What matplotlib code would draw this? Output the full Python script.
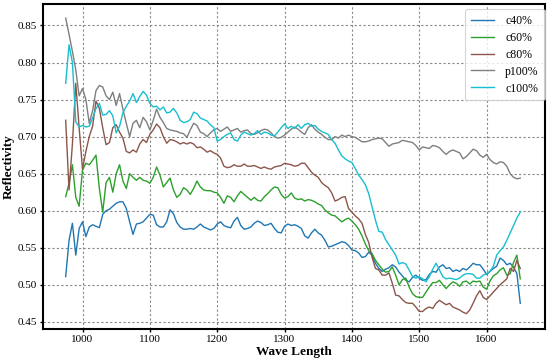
import matplotlib
matplotlib.use("Agg")
import matplotlib.pyplot as plt
import numpy as np

plt.rcParams['font.family'] = ['Liberation Serif', 'DejaVu Serif']
plt.rcParams['mathtext.fontset'] = 'stix'

wavelength = list(range(975, 1655, 5))

c40 = [
    0.511, 0.560, 0.583, 0.540, 0.576, 0.585,
    0.565, 0.578, 0.581, 0.579, 0.577, 0.595, 0.600, 0.602, 0.606, 0.610,
    0.612, 0.612, 0.603, 0.585, 0.568, 0.582, 0.583, 0.585, 0.590, 0.595,
    0.594, 0.581, 0.578, 0.578, 0.585, 0.601, 0.596, 0.584, 0.578, 0.575,
    0.575, 0.576, 0.575, 0.578, 0.582, 0.578, 0.576, 0.574, 0.576, 0.582,
    0.585, 0.580, 0.578, 0.577, 0.586, 0.591, 0.580, 0.575, 0.576, 0.578,
    0.583, 0.586, 0.584, 0.580, 0.581, 0.583, 0.576, 0.571, 0.570, 0.579,
    0.582, 0.580, 0.581, 0.579, 0.576, 0.566, 0.563, 0.570, 0.575, 0.570,
    0.567, 0.560, 0.551, 0.552, 0.554, 0.556, 0.558, 0.557, 0.553, 0.547,
    0.546, 0.543, 0.537, 0.538, 0.544, 0.540, 0.529, 0.522, 0.518, 0.521,
    0.523, 0.527, 0.524, 0.517, 0.512, 0.506, 0.504, 0.510, 0.513, 0.509,
    0.506, 0.507, 0.514, 0.518, 0.517, 0.524, 0.527, 0.522, 0.523, 0.518,
    0.520, 0.518, 0.522, 0.520, 0.524, 0.529, 0.527, 0.527, 0.521, 0.514,
    0.518, 0.522, 0.525, 0.536, 0.533, 0.527, 0.529, 0.524, 0.515, 0.475,
]

c60 = [
    0.619, 0.637, 0.662, 0.618, 0.606, 0.655,
    0.664, 0.662, 0.668, 0.675, 0.630, 0.598, 0.638, 0.645, 0.625, 0.650,
    0.662, 0.640, 0.630, 0.650, 0.645, 0.641, 0.645, 0.641, 0.640, 0.637,
    0.645, 0.659, 0.648, 0.632, 0.638, 0.644, 0.628, 0.618, 0.622, 0.631,
    0.628, 0.622, 0.630, 0.640, 0.632, 0.628, 0.627, 0.627, 0.625, 0.624,
    0.618, 0.610, 0.620, 0.618, 0.612, 0.620, 0.626, 0.622, 0.618, 0.614,
    0.618, 0.614, 0.613, 0.619, 0.623, 0.628, 0.632, 0.631, 0.622, 0.617,
    0.619, 0.624, 0.617, 0.615, 0.616, 0.613, 0.615, 0.614, 0.612, 0.609,
    0.607, 0.601, 0.597, 0.594, 0.593, 0.589, 0.585, 0.588, 0.590, 0.586,
    0.581, 0.575, 0.566, 0.555, 0.546, 0.542, 0.533, 0.527, 0.521, 0.517,
    0.518, 0.524, 0.513, 0.500, 0.507, 0.509, 0.497, 0.488, 0.484, 0.483,
    0.483, 0.490, 0.497, 0.503, 0.503, 0.506, 0.500, 0.495, 0.500, 0.504,
    0.502, 0.498, 0.504, 0.505, 0.501, 0.505, 0.504, 0.505, 0.497, 0.494,
    0.505, 0.512, 0.515, 0.520, 0.523, 0.513, 0.515, 0.530, 0.540, 0.508,
]

c80 = [
    0.722, 0.628, 0.690, 0.772, 0.712, 0.656,
    0.680, 0.700, 0.714, 0.748, 0.738, 0.712, 0.689, 0.692, 0.712, 0.716,
    0.706, 0.698, 0.680, 0.678, 0.682, 0.679, 0.690, 0.696, 0.692, 0.703,
    0.709, 0.717, 0.712, 0.700, 0.691, 0.696, 0.695, 0.693, 0.690, 0.692,
    0.690, 0.692, 0.690, 0.685, 0.686, 0.683, 0.679, 0.681, 0.678, 0.676,
    0.671, 0.660, 0.658, 0.659, 0.662, 0.660, 0.660, 0.663, 0.660, 0.660,
    0.661, 0.659, 0.657, 0.659, 0.657, 0.656, 0.659, 0.660, 0.661, 0.664,
    0.663, 0.662, 0.660, 0.661, 0.664, 0.664, 0.658, 0.652, 0.648, 0.645,
    0.638, 0.634, 0.631, 0.624, 0.613, 0.615, 0.618, 0.619, 0.603, 0.598,
    0.593, 0.589, 0.583, 0.568, 0.557, 0.537, 0.522, 0.520, 0.513, 0.513,
    0.516, 0.502, 0.486, 0.485, 0.480, 0.476, 0.475, 0.475, 0.470, 0.464,
    0.464, 0.468, 0.470, 0.468, 0.475, 0.479, 0.476, 0.473, 0.475, 0.470,
    0.468, 0.466, 0.463, 0.461, 0.466, 0.475, 0.485, 0.492, 0.483, 0.480,
    0.485, 0.490, 0.495, 0.500, 0.504, 0.508, 0.522, 0.518, 0.533, 0.522,
]

p100 = [
    0.860, 0.838, 0.815, 0.790, 0.755, 0.765,
    0.750, 0.718, 0.735, 0.762, 0.769, 0.767, 0.755, 0.750, 0.760, 0.742,
    0.758, 0.737, 0.718, 0.700, 0.718, 0.722, 0.712, 0.726, 0.720, 0.709,
    0.722, 0.737, 0.726, 0.719, 0.711, 0.709, 0.708, 0.707, 0.705, 0.704,
    0.699, 0.709, 0.718, 0.715, 0.706, 0.704, 0.700, 0.705, 0.709, 0.711,
    0.707, 0.710, 0.713, 0.707, 0.709, 0.711, 0.706, 0.708, 0.709, 0.704,
    0.703, 0.705, 0.708, 0.710, 0.709, 0.705, 0.700, 0.698, 0.699, 0.702,
    0.706, 0.710, 0.713, 0.710, 0.706, 0.703, 0.712, 0.716, 0.710, 0.706,
    0.703, 0.699, 0.696, 0.696, 0.700, 0.698, 0.702, 0.700, 0.702, 0.700,
    0.699, 0.696, 0.693, 0.693, 0.694, 0.696, 0.697, 0.698, 0.697, 0.692,
    0.687, 0.690, 0.691, 0.692, 0.695, 0.694, 0.693, 0.692, 0.688, 0.682,
    0.686, 0.685, 0.684, 0.688, 0.687, 0.685, 0.680, 0.676, 0.680, 0.682,
    0.680, 0.678, 0.670, 0.673, 0.678, 0.683, 0.681, 0.675, 0.672, 0.676,
    0.669, 0.665, 0.663, 0.666, 0.665, 0.660, 0.650, 0.645, 0.643, 0.644,
]

c100 = [
    0.772, 0.824, 0.800, 0.720, 0.713, 0.715,
    0.713, 0.714, 0.725, 0.738, 0.745, 0.729, 0.730, 0.735, 0.728, 0.705,
    0.714, 0.732, 0.741, 0.748, 0.758, 0.746, 0.754, 0.761, 0.756, 0.745,
    0.740, 0.741, 0.736, 0.740, 0.732, 0.733, 0.738, 0.732, 0.722, 0.719,
    0.720, 0.723, 0.733, 0.731, 0.725, 0.723, 0.721, 0.716, 0.712, 0.694,
    0.696, 0.700, 0.703, 0.705, 0.696, 0.694, 0.702, 0.706, 0.704, 0.702,
    0.704, 0.708, 0.703, 0.706, 0.705, 0.702, 0.701, 0.706, 0.712, 0.717,
    0.711, 0.714, 0.711, 0.716, 0.711, 0.716, 0.718, 0.714, 0.715, 0.710,
    0.707, 0.705, 0.703, 0.696, 0.691, 0.682, 0.674, 0.670, 0.667, 0.665,
    0.657, 0.648, 0.642, 0.635, 0.623, 0.605, 0.587, 0.572, 0.571, 0.561,
    0.554, 0.547, 0.540, 0.528, 0.530, 0.528, 0.520, 0.511, 0.509, 0.511,
    0.508, 0.504, 0.511, 0.521, 0.529, 0.520, 0.511, 0.508, 0.509, 0.508,
    0.507, 0.509, 0.513, 0.515, 0.515, 0.514, 0.509, 0.509, 0.513, 0.515,
    0.518, 0.525, 0.540, 0.546, 0.551, 0.560, 0.570, 0.580, 0.590, 0.598,
]

series = [("c40%", c40, "#1f77b4"), ("c60%", c60, "#2ca02c"),
          ("c80%", c80, "#8c564b"), ("p100%", p100, "#7f7f7f"),
          ("c100%", c100, "#17becf")]

xticks = [1000, 1100, 1200, 1300, 1400, 1500, 1600]
yticks = [0.45, 0.50, 0.55, 0.60, 0.65, 0.70, 0.75, 0.80, 0.85]

fig = plt.figure(figsize=(5.5, 3.61), dpi=100)
ax = fig.add_axes([0.079, 0.088, 0.911, 0.901])

for label, vals, color in series:
    ax.plot(wavelength, vals, color=color, linewidth=1.0, label=label)

ax.set_xlim(942, 1686)
ax.set_ylim(0.440, 0.879)
ax.set_xticks(xticks)
ax.set_yticks(yticks)
ax.set_yticklabels([f"{v:.2f}" for v in yticks])
ax.tick_params(labelsize=8, length=2, width=1.0, pad=2.5)
ax.grid(True, color='#888888', linestyle=(0, (2, 2)), linewidth=0.8)
for s in ax.spines.values():
    s.set_linewidth(1.5)
    s.set_color('black')

ax.set_xlabel("Wave Length", fontsize=9.5, fontweight='bold', labelpad=1)
ax.set_ylabel("Reflectivity", fontsize=9.5, fontweight='bold', labelpad=2)

leg = ax.legend(loc='upper right', bbox_to_anchor=(1.0, 0.985), borderaxespad=0.0,
                fontsize=8.5, frameon=True, fancybox=True, handlelength=2.0,
                handletextpad=0.9, labelspacing=0.42, borderpad=0.5)
leg.get_frame().set_edgecolor('#cccccc')
leg.get_frame().set_linewidth(0.8)

fig.savefig("out.png", dpi=100)
